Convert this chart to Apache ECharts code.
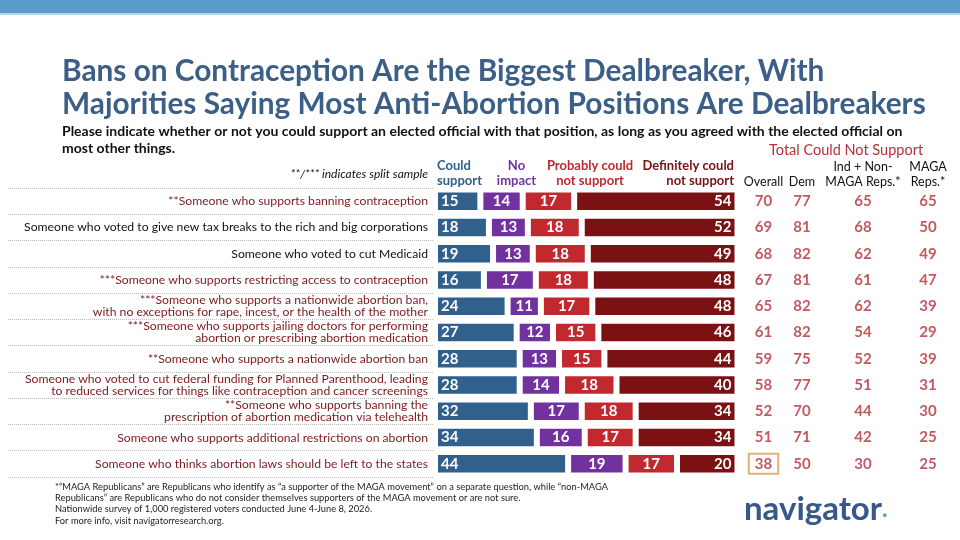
<!DOCTYPE html>
<html>
<head>
<meta charset="utf-8">
<script src="https://cdn.jsdelivr.net/npm/echarts@6/dist/echarts.min.js"></script>
<style>
  html, body { margin: 0; padding: 0; background: #fff; }
  #main { width: 960px; height: 540px; }
</style>
</head>
<body>
<div id="main"></div>
<script>
// row labels (top to bottom)
var positions = [
  '**Someone who supports banning contraception',
  'Someone who voted to give new tax breaks to the rich and big corporations',
  'Someone who voted to cut Medicaid',
  '***Someone who supports restricting access to contraception',
  '***Someone who supports a nationwide abortion ban,\nwith no exceptions for rape, incest, or the health of the mother',
  '***Someone who supports jailing doctors for performing\nabortion or prescribing abortion medication',
  '**Someone who supports a nationwide abortion ban',
  'Someone who voted to cut federal funding for Planned Parenthood, leading\nto reduced services for things like contraception and cancer screenings',
  '**Someone who supports banning the\nprescription of abortion medication via telehealth',
  'Someone who supports additional restrictions on abortion',
  'Someone who thinks abortion laws should be left to the states'
];
var blackRows = [1, 2]; // non-abortion items shown in black

var seriesNames = ['Could\nsupport', 'No\nimpact', 'Probably could\nnot support', 'Definitely could\nnot support'];
var couldSupport  = [15, 18, 19, 16, 24, 27, 28, 28, 32, 34, 44];
var noImpact      = [14, 13, 13, 17, 11, 12, 13, 14, 17, 16, 19];
var probablyNot   = [17, 18, 18, 18, 17, 15, 15, 18, 18, 17, 17];
var definitelyNot = [54, 52, 49, 48, 48, 46, 44, 40, 34, 34, 20];

// Total could not support
var colHeaders = ['Overall', 'Dem', 'Ind + Non-\nMAGA Reps.*', 'MAGA\nReps.*'];
var overall    = [70, 69, 68, 67, 65, 61, 59, 58, 52, 51, 38];
var dem        = [77, 81, 82, 81, 82, 82, 75, 77, 70, 71, 50];
var indNonMaga = [65, 68, 62, 61, 62, 54, 52, 51, 44, 42, 30];
var magaReps   = [65, 50, 49, 47, 39, 29, 39, 31, 30, 25, 25];

var FONT = 'Lato';
var colors = ['#31608c', '#7132a0', '#c1292e', '#7a1113'];

var raw = [couldSupport, noImpact, probablyNot, definitelyNot];
// each row drawn as share of its own total so all rows end at the same edge
var rowSum = positions.map(function (p, i) {
  return raw.reduce(function (s, arr) { return s + arr[i]; }, 0);
});

var labelPos = ['insideLeft', 'inside', 'inside', 'insideRight'];
var barSeries = raw.map(function (arr, k) {
  return {
    name: seriesNames[k],
    type: 'bar',
    stack: 'all',
    xAxisIndex: 0,
    yAxisIndex: 0,
    barWidth: 23.5,
    data: arr.map(function (v, i) { return v * 100 / rowSum[i]; }),
    itemStyle: { color: colors[k], borderColor: '#fff', borderWidth: 3 },
    label: {
      show: true,
      position: labelPos[k],
      distance: 6,
      color: '#fff',
      fontFamily: FONT,
      fontWeight: 'bold',
      fontSize: 15,
      formatter: function (p) { return arr[p.dataIndex]; }
    }
  };
});

// right-hand columns: one narrow grid each
var colCenters = [763.5, 802, 863, 928];
var colValues = [overall, dem, indNonMaga, magaReps];
var colGrids = [], colX = [], colY = [], colSeries = [];
colCenters.forEach(function (c, k) {
  colGrids.push({ left: c - 20, width: 40, top: 188, height: 289 });
  colX.push({
    type: 'category', gridIndex: 2 + k, position: 'top', data: [colHeaders[k]],
    axisLine: { show: false }, axisTick: { show: false },
    axisLabel: { color: '#111', fontFamily: FONT, fontSize: 12.5, lineHeight: 15, margin: -1, interval: 0 }
  });
  colY.push({
    type: 'category', gridIndex: 2 + k, inverse: true, data: positions, show: false
  });
  colSeries.push({
    type: 'scatter',
    xAxisIndex: 2 + k,
    yAxisIndex: 2 + k,
    symbolSize: 0,
    data: colValues[k].map(function (v, i) {
      var item = { value: [0, i, v] };
      if (k === 0 && i === positions.length - 1) {
        item.label = { borderColor: '#e39a5c', borderWidth: 2, padding: [3, 6, 2, 6] };
      }
      return item;
    }),
    label: {
      show: true,
      position: 'inside',
      color: '#b3303a',
      fontFamily: FONT,
      fontWeight: 'bold',
      fontSize: 15,
      formatter: function (p) { return p.value[2]; }
    }
  });
});

var headerStyle = function (txt, x, align, color) {
  return {
    type: 'text', x: x, y: 173,
    style: {
      text: txt, fill: color, font: 'bold 13px ' + FONT,
      align: align, verticalAlign: 'middle', lineHeight: 15
    }
  };
};

var chart = echarts.init(document.getElementById('main'));
chart.setOption({
  animation: false,
  backgroundColor: '#fff',
  title: [
    {
      text: 'Bans on Contraception Are the Biggest Dealbreaker, With\nMajorities Saying Most Anti-Abortion Positions Are Dealbreakers',
      left: 62, top: 55, padding: 0,
      textStyle: { fontFamily: FONT, fontSize: 29.8, fontWeight: 'bold', color: '#3b5f86', lineHeight: 33 }
    },
    {
      text: 'Please indicate whether or not you could support an elected official with that position, as long as you agreed with the elected official on\nmost other things.',
      left: 62, top: 123, padding: 0,
      textStyle: { fontFamily: FONT, fontSize: 14, fontWeight: 'bold', color: '#111', lineHeight: 17 }
    },
    {
      text: 'Total Could Not Support',
      left: 769, top: 143, padding: 0,
      textStyle: { fontFamily: FONT, fontSize: 14.5, fontWeight: 'normal', color: '#b5323a' }
    },
    {
      text: '*\u201cMAGA Republicans\u201d are Republicans who identify as \u201ca supporter of the MAGA movement\u201d on a separate question, while \u201cnon-MAGA\nRepublicans\u201d are Republicans who do not consider themselves supporters of the MAGA movement or are not sure.\nNationwide survey of 1,000 registered voters conducted June 4-June 8, 2026.\nFor more info, visit navigatorresearch.org.',
      left: 55, top: 481, padding: 0,
      textStyle: { fontFamily: FONT, fontSize: 9.3, fontWeight: 'normal', color: '#222', lineHeight: 11.3 }
    }
  ],
  grid: [
    { left: 435, width: 302.5, top: 188, height: 289 },
    { left: 8, width: 425, top: 188, height: 289 }
  ].concat(colGrids),
  xAxis: [
    { type: 'value', gridIndex: 0, min: 0, max: 100, show: false },
    { type: 'value', gridIndex: 1, min: 0, max: 1, show: false }
  ].concat(colX),
  yAxis: [
    {
      type: 'category', gridIndex: 0, inverse: true, data: positions,
      axisLine: { show: false }, axisTick: { show: false }, splitLine: { show: false },
      axisLabel: {
        margin: 7, fontFamily: FONT, fontSize: 12.2, lineHeight: 12, interval: 0,
        color: function (v, i) { return blackRows.indexOf(i) >= 0 ? '#111' : '#7b1a1e'; }
      }
    },
    {
      type: 'category', gridIndex: 1, inverse: true, data: positions,
      axisLine: { show: false }, axisTick: { show: false }, axisLabel: { show: false },
      splitLine: { show: true, interval: 0, lineStyle: { type: 'dotted', color: '#bdbdbd', width: 1 } }
    }
  ].concat(colY),
  graphic: [
    { type: 'rect', shape: { x: 0, y: 0, width: 960, height: 13 }, style: { fill: '#5b9bc9' } },
    { type: 'rect', shape: { x: 0, y: 13, width: 960, height: 2 }, style: { fill: '#b5d3ea' } },
    {
      type: 'text', x: 428, y: 174,
      style: { text: '**/*** indicates split sample', fill: '#111', font: 'italic 12px ' + FONT, align: 'right', verticalAlign: 'middle' }
    },
    headerStyle(seriesNames[0], 437, 'left', colors[0]),
    headerStyle(seriesNames[1], 516.5, 'center', colors[1]),
    headerStyle(seriesNames[2], 590, 'center', colors[2]),
    headerStyle(seriesNames[3], 734, 'right', colors[3]),
    {
      type: 'text', x: 744, y: 509,
      style: {
        text: '{a|navigator}{b|.}',
        verticalAlign: 'middle',
        rich: {
          a: { fontFamily: FONT, fontWeight: 'bold', fontSize: 33, fill: '#36598a', color: '#36598a' },
          b: { fontFamily: FONT, fontWeight: 'bold', fontSize: 24, fill: '#5b9bd5', color: '#5b9bd5' }
        }
      }
    }
  ],
  series: barSeries.concat(colSeries)
});
</script>
</body>
</html>
